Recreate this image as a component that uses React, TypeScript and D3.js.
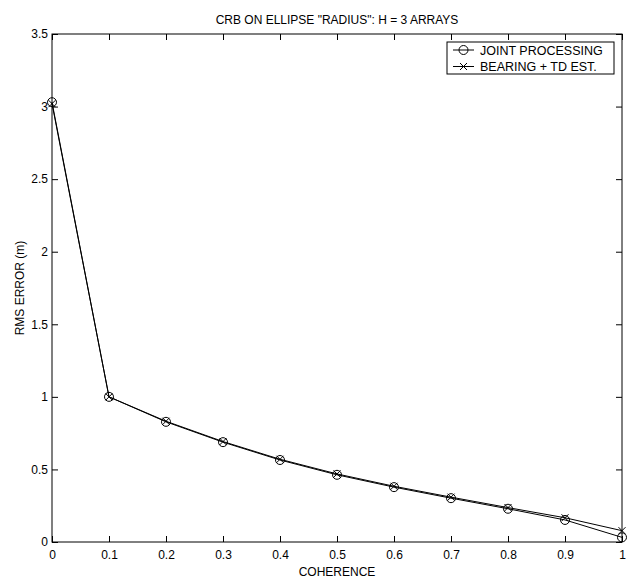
import React, { useEffect, useRef } from "react";
import * as d3 from "d3";

const coherence = [0, 0.1, 0.2, 0.3, 0.4, 0.5, 0.6, 0.7, 0.8, 0.9, 1];
const jointProcessing = [3.03, 1.0, 0.828, 0.688, 0.565, 0.463, 0.378, 0.302, 0.229, 0.152, 0.032];
const bearingTd = [3.02, 1.0, 0.832, 0.692, 0.57, 0.469, 0.384, 0.309, 0.237, 0.167, 0.078];
const xTicks = [0, 0.1, 0.2, 0.3, 0.4, 0.5, 0.6, 0.7, 0.8, 0.9, 1];
const yTicks = [0, 0.5, 1, 1.5, 2, 2.5, 3, 3.5];
const seriesNames = ["JOINT PROCESSING", "BEARING + TD EST."];

const App = () => {
  const ref = useRef<SVGSVGElement>(null);

  useEffect(() => {
    const svg = d3.select(ref.current);
    svg.selectAll("*").remove();
    const margin = { top: 34, right: 9, bottom: 40, left: 52 };
    const W = 631, H = 582;
    const w = W - margin.left - margin.right;
    const h = H - margin.top - margin.bottom;
    const font = "Liberation Sans, Arial, sans-serif";

    const x = d3.scaleLinear().domain([0, 1]).range([0, w]);
    const y = d3.scaleLinear().domain([0, 3.5]).range([h, 0]);

    const g = svg.append("g").attr("transform", `translate(${margin.left},${margin.top})`);

    g.append("rect").attr("width", w).attr("height", h).attr("fill", "white");

    const fmt = (d: any) => String(d);
    const tl = 6;
    const xb = g.append("g").attr("transform", `translate(0,${h})`)
      .call(d3.axisBottom(x).tickValues(xTicks).tickSize(-tl).tickPadding(8).tickFormat(fmt));
    const xt = g.append("g").call(d3.axisTop(x).tickValues(xTicks).tickSize(-tl).tickFormat(() => ""));
    const yl = g.append("g").call(d3.axisLeft(y).tickValues(yTicks).tickSize(-tl).tickPadding(4).tickFormat(fmt));
    const yr = g.append("g").attr("transform", `translate(${w},0)`)
      .call(d3.axisRight(y).tickValues(yTicks).tickSize(-tl).tickFormat(() => ""));
    [xb, xt, yl, yr].forEach((a) => {
      a.select(".domain").remove();
      a.selectAll("line").attr("stroke", "black");
      a.selectAll("text").attr("font-family", font).attr("font-size", 12).attr("fill", "black");
    });

    g.append("rect").attr("width", w).attr("height", h)
      .attr("fill", "none").attr("stroke", "black").attr("stroke-width", 1);

    const line = d3.line<number>().x((_, i) => x(coherence[i])).y((d) => y(d));
    const series = [jointProcessing, bearingTd];
    series.forEach((s) => {
      g.append("path").attr("d", line(s)).attr("fill", "none").attr("stroke", "black").attr("stroke-width", 1);
    });

    const circle = (sel: any, cx: number, cy: number) =>
      sel.append("circle").attr("cx", cx).attr("cy", cy).attr("r", 4.5)
        .attr("fill", "none").attr("stroke", "black").attr("stroke-width", 1);
    const cross = (sel: any, cx: number, cy: number) => {
      const s = 3.5;
      sel.append("path")
        .attr("d", `M${cx - s},${cy - s}L${cx + s},${cy + s}M${cx - s},${cy + s}L${cx + s},${cy - s}`)
        .attr("stroke", "black").attr("stroke-width", 1);
    };

    jointProcessing.forEach((v, i) => circle(g, x(coherence[i]), y(v)));
    bearingTd.forEach((v, i) => cross(g, x(coherence[i]), y(v)));

    // legend
    const lg = svg.append("g").attr("transform", `translate(447,42)`);
    lg.append("rect").attr("width", 167).attr("height", 32)
      .attr("fill", "white").attr("stroke", "black").attr("stroke-width", 1);
    seriesNames.forEach((name, i) => {
      const cy = 8 + i * 16.5;
      lg.append("line").attr("x1", 6).attr("x2", 27).attr("y1", cy).attr("y2", cy).attr("stroke", "black");
      if (i === 0) circle(lg, 16.5, cy); else cross(lg, 16.5, cy);
      lg.append("text").attr("x", 33).attr("y", cy + 4.5).text(name)
        .attr("font-family", font).attr("font-size", 12.5).attr("fill", "black");
    });

    svg.append("text").attr("x", margin.left + w / 2).attr("y", 24)
      .attr("text-anchor", "middle").attr("font-family", font).attr("font-size", 12)
      .text('CRB ON ELLIPSE "RADIUS": H = 3 ARRAYS');

    svg.append("text").attr("x", margin.left + w / 2).attr("y", 576)
      .attr("text-anchor", "middle").attr("font-family", font).attr("font-size", 12)
      .text("COHERENCE");

    svg.append("text")
      .attr("transform", `translate(24,${margin.top + h / 2}) rotate(-90)`)
      .attr("text-anchor", "middle").attr("font-family", font).attr("font-size", 12)
      .text("RMS ERROR (m)");
  }, []);

  return (
    <svg ref={ref} width={631} height={582} style={{ display: "block", position: "absolute", left: 0, top: 0 }} />
  );
};

export default App;
